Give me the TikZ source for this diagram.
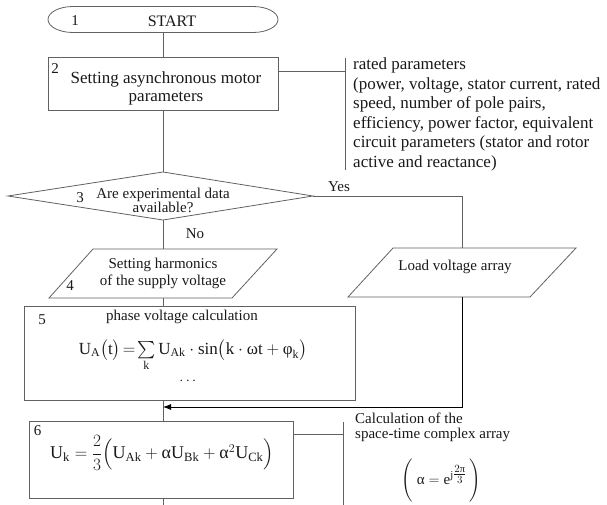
\documentclass[tikz,border=0pt]{standalone}
\usepackage{amsmath}
\usepackage{fontspec}
\setmainfont{Liberation Serif}
\usetikzlibrary{arrows.meta}
\tikzset{
  ln/.style={draw=black!62, line width=0.8pt},
  txt/.style={inner sep=0pt, text=black!90, align=center, font=\fontsize{15}{14}\selectfont},
  big/.style={txt, font=\fontsize{17}{18}\selectfont},
  frm/.style={inner sep=0pt, text=black!90, font=\fontsize{17}{20}\selectfont},
  boxn/.style={ln, inner sep=0pt},
  arr/.style={ln, draw=black, -{Latex[length=8pt,width=6pt]}}
}
\newcommand{\gr}[1]{\text{#1}}
\begin{document}
\begin{tikzpicture}[x=1pt,y=-1pt]
\useasboundingbox (0,0) rectangle (607,505);
% 1 START
\coordinate (stT) at (163,6.5);
\coordinate (stB) at (163,32.5);
\draw[ln] (73,6.5) -- (253,6.5) arc[start angle=-90, end angle=90, x radius=25, y radius=13]
  -- (73,32.5) arc[start angle=90, end angle=270, x radius=25, y radius=13] -- cycle;
\node[txt, font=\fontsize{16}{18}\selectfont] (start) at (172,21) {START};
\node[txt] (n1) at (75,21) {1};
% 2
\node[boxn, minimum width=230, minimum height=53] (box2) at (163,83.5) {};
\node[txt] (n2) at (55,69) {2};
\node[big] (t2) at (166,88) {Setting asynchronous motor\\parameters};
\coordinate (b2r) at (278,71);
\coordinate (br1t) at (345,58);
\coordinate (br1b) at (345,170);
\coordinate (br1m) at (345,71);
\draw[ln] (br1t) -- (br1b);
\draw[ln] (b2r) -- (br1m);
\node[inner sep=0pt, text=black!90, align=left, font=\fontsize{17}{19.6}\selectfont, anchor=north west] (ann1) at (353,57.5)
 {rated parameters\\(power, voltage, stator current, rated\\speed, number of pole pairs,\\efficiency, power factor, equivalent\\circuit parameters (stator and rotor\\active and reactance)};
% 3 diamond
\coordinate (dT) at (163,172);
\coordinate (dR) at (313,196);
\coordinate (dB) at (163,220);
\coordinate (dL) at (8,196);
\draw[ln] (dT) -- (dR) -- (dB) -- (dL) -- cycle;
\node[txt] (t3) at (163,200) {Are experimental data\\available?};
\node[txt] (n3) at (80,198) {3};
\node[txt] (yes) at (339,187) {Yes};
\node[txt] (no) at (195,234) {No};
% 4 parallelogram
\coordinate (p4a) at (49,298);
\coordinate (p4b) at (232,298);
\coordinate (p4c) at (277,249);
\coordinate (p4d) at (93,249);
\coordinate (p4t) at (163,249);
\coordinate (p4s) at (163,298);
\draw[ln] (p4a) -- (p4b) -- (p4c) -- (p4d) -- cycle;
\node[txt, font=\fontsize{15}{17}\selectfont] (t4) at (163,273) {Setting harmonics\\of the supply voltage};
\node[txt] (n4) at (70,286) {4};
% load voltage array
\coordinate (la) at (348,297);
\coordinate (lb) at (530,297);
\coordinate (lc) at (576,248);
\coordinate (ld) at (393,248);
\coordinate (lt) at (462,248);
\coordinate (ls) at (462,297);
\draw[ln] (la) -- (lb) -- (lc) -- (ld) -- cycle;
\node[txt] (tl) at (455,267) {Load voltage array};
% 5
\node[boxn, minimum width=331, minimum height=94] (box5) at (189.5,353) {};
\node[txt] (n5) at (42,320) {5};
\node[txt] (t5) at (182,316.5) {phase voltage calculation};
\node[frm, anchor=base] (f5) at (193,354) {\smash{$\mathrm{U}_{\mathrm{A}}\bigl(\mathrm{t}\bigr)\!=\!\sum\limits_{\mathrm{k}}\mathrm{U}_{\mathrm{Ak}}\cdot\sin\bigl(\mathrm{k}\cdot\gr{ω}\mathrm{t}+\gr{φ}_{\mathrm{k}}\bigr)$}};
\node[txt] (dots) at (189,381) {$\cdots$};
% 6
\node[boxn, minimum width=264, minimum height=77] (box6) at (161,459.5) {};
\node[txt] (n6) at (37.5,431) {6};
\node[frm, font=\fontsize{18}{20}\selectfont] (f6) at (162,453) {$\mathrm{U}_{\mathrm{k}}=\dfrac{2}{3}\Bigl(\mathrm{U}_{\mathrm{Ak}}+\gr{α}\mathrm{U}_{\mathrm{Bk}}+\gr{α}^{2}\mathrm{U}_{\mathrm{Ck}}\Bigr)$};
\coordinate (b6r) at (293,434);
\coordinate (br2m) at (343,434);
\coordinate (br2t) at (343,422);
\coordinate (br2b) at (343,505);
\draw[ln] (br2t) -- (br2b);
\draw[ln] (b6r) -- (br2m);
\node[inner sep=0pt, text=black!90, align=left, font=\fontsize{15}{15}\selectfont, anchor=north west] (ann6) at (355,413)
 {Calculation of the\\space-time complex array};
\node[txt] (alpha) at (441,481) {$\Biggl(\;\gr{α}=\mathrm{e}^{\mathrm{j}\genfrac{}{}{}{1}{2\gr{π}}{3}}\,\Biggr)$};
% connectors
\coordinate (ar) at (163,407);
\coordinate (bot) at (163,505);
\draw[ln] (stB) -- (box2.north -| stB);
\draw[ln] (box2.south -| stB) -- (dT);
\draw[ln] (dB) -- (p4t);
\draw[ln] (p4s) -- (p4s |- box5.north);
\draw[ln] (p4s |- box5.south) -- (p4s |- box6.north);
\draw[ln] (p4s |- box6.south) -- (bot);
\draw[ln] (dR) -- (dR -| lt) -- (lt);
\draw[arr] (ls) -- (ls |- ar) -- (ar);
\end{tikzpicture}
\end{document}
